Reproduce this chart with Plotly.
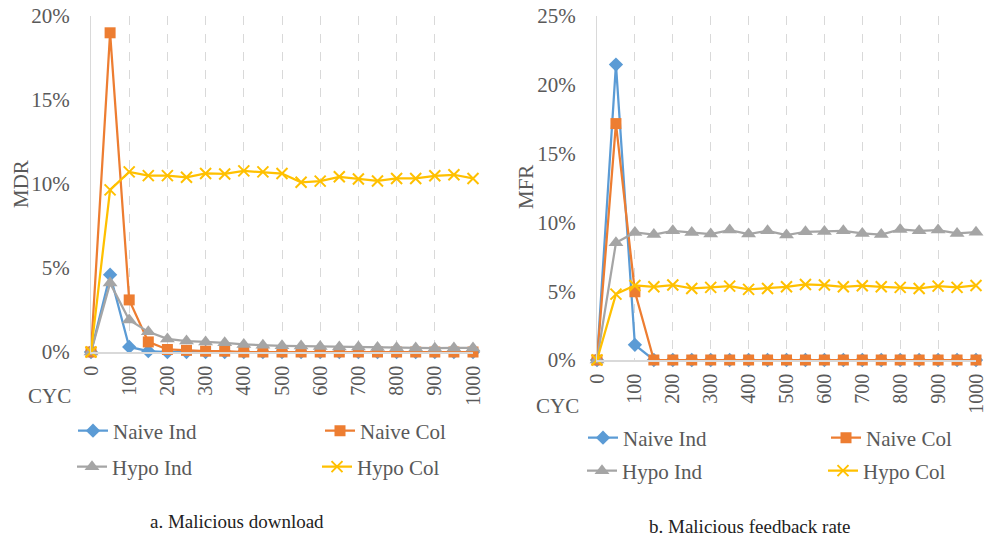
import plotly.graph_objects as go

# ---------------- data ----------------
cyc = [0, 50, 100, 150, 200, 250, 300, 350, 400, 450, 500,
       550, 600, 650, 700, 750, 800, 850, 900, 950, 1000]
tick_vals = [0, 100, 200, 300, 400, 500, 600, 700, 800, 900, 1000]

series_names = ["Naive Ind", "Naive Col", "Hypo Ind", "Hypo Col"]

# a. Malicious download rate (MDR)
mdr_naive_ind = [0, 0.046, 0.003, 0.0005, 0, 0, 0, 0, 0, 0, 0,
                 0, 0, 0, 0, 0, 0, 0, 0, 0, 0]
mdr_naive_col = [0, 0.190, 0.031, 0.006, 0.0015, 0.001, 0.0005, 0.0005, 0, 0, 0,
                 0, 0, 0, 0, 0, 0, 0, 0, 0, 0]
mdr_hypo_ind = [0, 0.041, 0.019, 0.012, 0.0078, 0.0065, 0.006, 0.0055, 0.0045, 0.004, 0.0037,
                0.0035, 0.0033, 0.003, 0.003, 0.0027, 0.0026, 0.0024, 0.0023, 0.0024, 0.0024]
mdr_hypo_col = [0, 0.0965, 0.1072, 0.105, 0.105, 0.104, 0.1063, 0.106, 0.1078, 0.1072, 0.1062,
                0.101, 0.1017, 0.1043, 0.103, 0.1018, 0.1033, 0.1033, 0.1049, 0.1055, 0.1033]

# b. Malicious feedback rate (MFR)
mfr_naive_ind = [0, 0.2147, 0.011, 0, 0, 0, 0, 0, 0, 0, 0,
                 0, 0, 0, 0, 0, 0, 0, 0, 0, 0]
mfr_naive_col = [0, 0.1718, 0.0496, 0, 0, 0, 0, 0, 0, 0, 0,
                 0, 0, 0, 0, 0, 0, 0, 0, 0, 0]
mfr_hypo_ind = [0, 0.0852, 0.0927, 0.0912, 0.0939, 0.0927, 0.0915, 0.0944, 0.0915, 0.0939, 0.0908,
                0.0932, 0.0934, 0.0939, 0.0920, 0.0912, 0.0949, 0.0939, 0.0944, 0.0920, 0.0929]
mfr_hypo_col = [0, 0.0479, 0.0542, 0.0532, 0.0545, 0.0520, 0.0528, 0.0537, 0.0513, 0.0520, 0.0532,
                0.0549, 0.0545, 0.0532, 0.0540, 0.0532, 0.0528, 0.0520, 0.0537, 0.0528, 0.0542]

# ---------------- styles ----------------
colors = ["#5B9BD5", "#ED7D31", "#A5A5A5", "#FFC000"]
symbols = ["diamond", "square", "triangle-up", "x-thin"]
sizes = [11, 11, 13, 11]
FONT = "Liberation Serif"
TXT = "#595959"

W, H = 989, 537


def px_x(p):
    return p / W


def px_y(p):
    return 1 - p / H


fig = go.Figure()

left_series = [mdr_naive_ind, mdr_naive_col, mdr_hypo_ind, mdr_hypo_col]
right_series = [mfr_naive_ind, mfr_naive_col, mfr_hypo_ind, mfr_hypo_col]

# one legend per entry so every entry can be placed like the reference
left_leg_pos = [(73, 431), (320, 431), (72, 467), (317, 467)]
right_leg_pos = [(583, 438), (826, 438), (582, 471), (823, 471)]

legend_layout = {}
k = 0
for data, pos, xa, ya in [(left_series, left_leg_pos, "x", "y"),
                          (right_series, right_leg_pos, "x2", "y2")]:
    for i, name in enumerate(series_names):
        k += 1
        leg_id = "legend" if k == 1 else f"legend{k}"
        marker = dict(color=colors[i], size=sizes[i], symbol=symbols[i])
        if symbols[i] == "x-thin":
            marker["line"] = dict(color=colors[i], width=2)
        fig.add_trace(go.Scatter(
            x=cyc, y=data[i], name=name, mode="lines+markers",
            line=dict(color=colors[i], width=2.25), marker=marker,
            xaxis=xa, yaxis=ya, legend=leg_id, cliponaxis=False,
        ))
        legend_layout[leg_id] = dict(
            x=px_x(pos[i][0]), y=px_y(pos[i][1]), xanchor="left", yanchor="middle",
            orientation="h", bgcolor="rgba(0,0,0,0)",
            font=dict(family=FONT, size=21, color=TXT),
        )

axis_common_x = dict(
    type="linear", range=[0, 1000], tickvals=tick_vals, tickangle=-90,
    showgrid=True, gridcolor="#D9D9D9", griddash="dash", gridwidth=1,
    showline=True, linecolor="#D9D9D9", linewidth=1.5, zeroline=False,
    tickfont=dict(family=FONT, size=20, color=TXT), ticks="", ticklabelstandoff=4,
    ticklabeloverflow="allow",
)
axis_common_y = dict(
    tickformat=".0%", showgrid=False, zeroline=False,
    showline=True, linecolor="#D9D9D9", linewidth=1,
    tickfont=dict(family=FONT, size=21, color=TXT), ticks="", ticklabelstandoff=16,
)

fig.update_layout(
    width=W, height=H, margin=dict(l=0, r=0, t=0, b=0, autoexpand=False),
    paper_bgcolor="white", plot_bgcolor="white",
    font=dict(family=FONT, color=TXT),
    xaxis=dict(domain=[px_x(91), px_x(473)], anchor="y", **axis_common_x),
    yaxis=dict(domain=[px_y(352), px_y(16)], anchor="x", range=[0, 0.20],
               tickvals=[0, 0.05, 0.10, 0.15, 0.20], **axis_common_y),
    xaxis2=dict(domain=[px_x(597), px_x(976)], anchor="y2", **axis_common_x),
    yaxis2=dict(domain=[px_y(360), px_y(16)], anchor="x2", range=[0, 0.25],
                tickvals=[0, 0.05, 0.10, 0.15, 0.20, 0.25], **axis_common_y),
    showlegend=True,
    **legend_layout,
)

ann_font = dict(family=FONT, size=21, color=TXT)
annotations = [
    dict(text="MDR", x=px_x(21), y=px_y(184), textangle=-90, font=ann_font),
    dict(text="MFR", x=px_x(526), y=px_y(187), textangle=-90, font=ann_font),
    dict(text="CYC", x=px_x(49), y=px_y(396), font=ann_font),
    dict(text="CYC", x=px_x(557), y=px_y(406), font=ann_font),
    dict(text="a. Malicious download", x=px_x(237), y=px_y(521),
         font=dict(family=FONT, size=19, color="#222222")),
    dict(text="b. Malicious feedback rate", x=px_x(750), y=px_y(526),
         font=dict(family=FONT, size=19, color="#222222")),
]
for a in annotations:
    a.update(xref="paper", yref="paper", showarrow=False,
             xanchor="center", yanchor="middle")
fig.update_layout(annotations=annotations)

fig.write_html("out.html")
